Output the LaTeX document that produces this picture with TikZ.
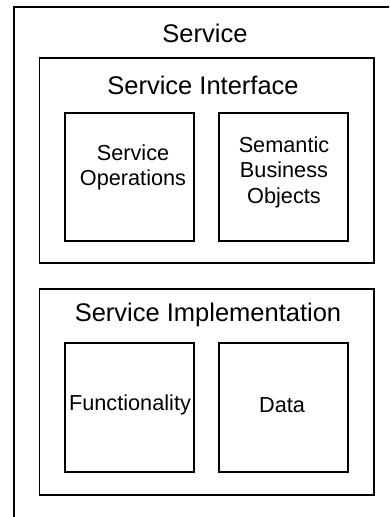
\documentclass[tikz,border=0pt]{standalone}
\usepackage{fontspec}
\setmainfont{Liberation Sans}
\begin{document}
\begin{tikzpicture}[x=1pt,y=-1pt,
  box/.style={draw=black,line width=1.8pt,fill=white},
  title/.style={font=\fontsize{25.5}{30}\selectfont,align=center,inner sep=0pt},
  lbl/.style={font=\fontsize{21.7}{25.5}\selectfont,align=center,inner sep=0pt}]
\useasboundingbox (0,0) rectangle (389,517);
\clip (0,0) rectangle (389,517);
\fill[white] (0,0) rectangle (389,517);
% outer service box (cropped at right and bottom)
\draw[box] (14,7) rectangle (400,530);
\node[title] (service) at (205,33) {Service};
% service interface
\draw[box] (39.5,58) rectangle (374,263);
\node[title] (si) at (203,85) {Service Interface};
\draw[box] (65,113) rectangle (194,241);
\node[lbl] (ops) at (133,167.5) {Service\\Operations};
\draw[box] (219,113) rectangle (348,241);
\node[lbl] (sbo) at (284,172) {Semantic\\Business\\Objects};
% service implementation
\draw[box] (39.5,289) rectangle (374,495);
\node[title] (simp) at (208,315) {Service Implementation};
\draw[box] (65,343) rectangle (194,472);
\node[lbl] (func) at (130,405) {Functionality};
\draw[box] (219,343) rectangle (348,472);
\node[lbl] (data) at (282,405) {Data};
\end{tikzpicture}
\end{document}
